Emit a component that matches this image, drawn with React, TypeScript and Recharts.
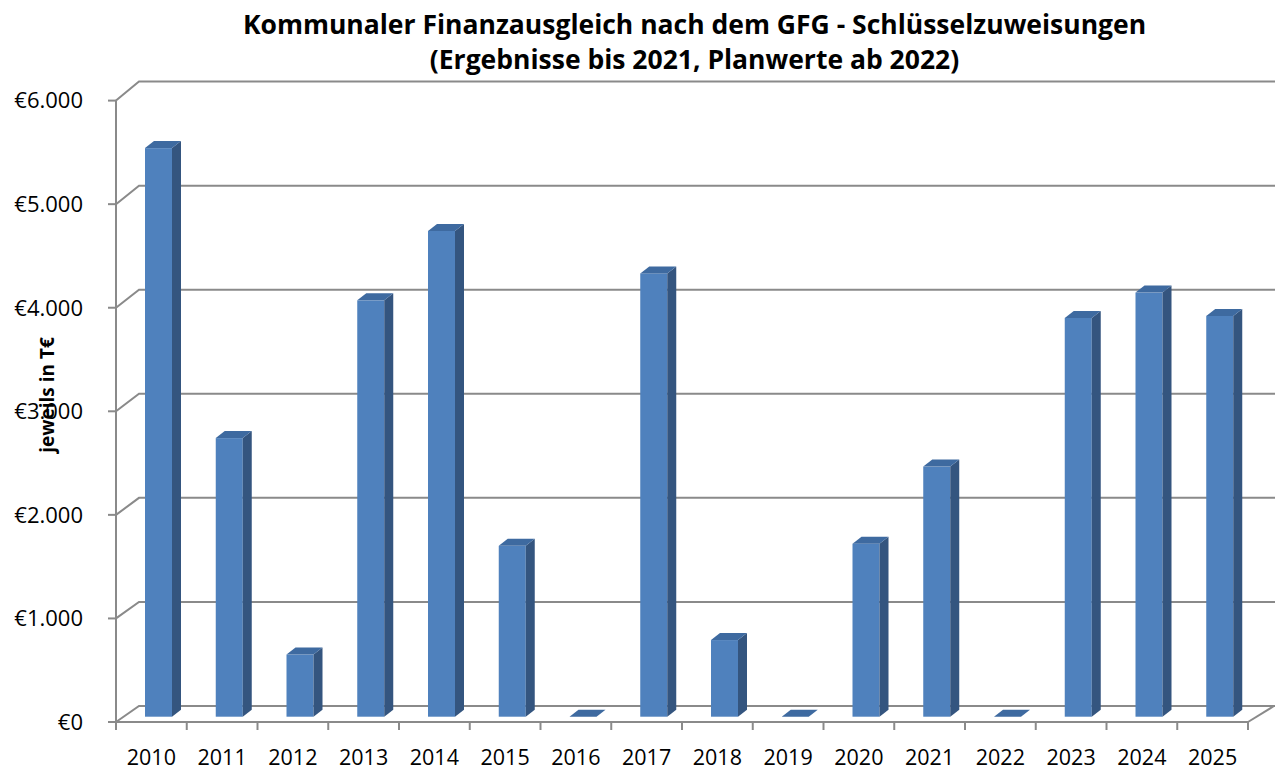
import { BarChart, Bar, XAxis, YAxis, CartesianGrid } from 'recharts'

const years = ['2010', '2011', '2012', '2013', '2014', '2015', '2016', '2017', '2018', '2019', '2020', '2021', '2022', '2023', '2024', '2025']
const schluesselzuweisungen = [5490, 2690, 600, 4020, 4690, 1650, 0, 4280, 740, 0, 1670, 2415, 0, 3850, 4095, 3870]
const yTicks = [0, 1000, 2000, 3000, 4000, 5000, 6000]

const titleLines = ['Kommunaler Finanzausgleich nach dem GFG - Schlüsselzuweisungen', '(Ergebnisse bis 2021, Planwerte ab 2022)']
const yLabel = 'jeweils in T€'

const data = years.map((year, i) => ({ year, value: schluesselzuweisungen[i] }))

const FONT = '"Open Sans", "Noto Sans", sans-serif'
const GRID = '#8a8a8a'

// plot box (front plane)
const LEFT = 116
const RIGHT = 1248
const TOP = 100.6
const BOTTOM = 722
const BAND = (RIGHT - LEFT) / years.length

// perspective of the back wall
const WALL_DX = 23
const wallDy = (y: number) => 16 + ((BOTTOM - y) / (BOTTOM - TOP)) * 3

function BackGridLine(props: any) {
  const { x1, y1, x2 } = props
  const dy = wallDy(y1)
  const isFloor = Math.abs(y1 - BOTTOM) < 1
  return (
    <g>
      <path
        d={`M${x1},${y1} L${x1 + WALL_DX},${y1 - dy} L${x2 + 27},${y1 - dy}`}
        fill="none"
        stroke={GRID}
        strokeWidth={2}
      />
      {isFloor && <path d={`M${x2},${y1} L${x2 + 26},${y1 - dy}`} fill="none" stroke={GRID} strokeWidth={2} />}
    </g>
  )
}

function Column3D(props: any) {
  const { x, y, width, height } = props
  const w = 27
  const left = x + width / 2 - w / 2 + 7
  const right = left + w
  const top = y - 5.3
  const bottom = y + height - 5.3
  const dx = 9
  const dy = 7
  const topFace = `M${left},${top} L${left + dx},${top - dy} L${right + dx},${top - dy} L${right},${top} Z`
  if (!height || height < 0.5) {
    return <path d={topFace} fill="#3e6aa0" />
  }
  return (
    <g>
      <rect x={left} y={top} width={w} height={bottom - top} fill="#4f81bd" />
      <path d={`M${right},${top} L${right + dx},${top - dy} L${right + dx},${bottom - dy} L${right},${bottom} Z`} fill="#34557f" />
      <path d={topFace} fill="#3e6aa0" />
    </g>
  )
}

function YearTick(props: any) {
  const { x, y, payload, index } = props
  const last = index === years.length - 1
  return (
    <g>
      <line x1={x - BAND / 2} y1={y} x2={x - BAND / 2} y2={y + 8} stroke={GRID} strokeWidth={2} />
      {last && <line x1={x + BAND / 2} y1={y} x2={x + BAND / 2} y2={y + 8} stroke={GRID} strokeWidth={2} />}
      <text x={x} y={y + 34} textAnchor="middle" dominantBaseline="central" fontSize={21.5} fontFamily={FONT} fill="#000">
        {payload.value}
      </text>
    </g>
  )
}

const euro = (v: number) => (v === 0 ? '€0' : `€${v / 1000}.000`)

export default function App() {
  return (
    <div style={{ position: 'absolute', left: 0, top: 0, width: 1281, height: 769, background: '#fff', fontFamily: FONT }}>
      <div
        style={{
          position: 'absolute',
          left: 54,
          top: 7,
          width: 1281,
          textAlign: 'center',
          fontWeight: 700,
          fontSize: 26.5,
          lineHeight: '35px',
          color: '#000',
        }}
      >
        {titleLines.map((t) => (
          <div key={t}>{t}</div>
        ))}
      </div>
      <BarChart
        width={1281}
        height={769}
        data={data}
        style={{ overflow: 'visible' }}
        margin={{ top: TOP, right: 1281 - RIGHT, bottom: 769 - BOTTOM - 30, left: LEFT - 60 }}
      >
        <CartesianGrid vertical={false} horizontal={(p: any) => <BackGridLine key={p.key} {...p} />} />
        <XAxis
          dataKey="year"
          height={30}
          tickLine={false}
          tickSize={0}
          tickMargin={0}
          axisLine={{ stroke: GRID, strokeWidth: 2 }}
          tick={<YearTick />}
          interval={0}
        />
        <YAxis
          width={60}
          domain={[0, 6000]}
          ticks={yTicks}
          tickFormatter={euro}
          tickSize={8}
          tickMargin={25}
          tickLine={{ stroke: GRID, strokeWidth: 2 }}
          axisLine={{ stroke: GRID, strokeWidth: 2 }}
          tick={{ fill: '#000', fontSize: 22, fontFamily: FONT }}
        />
        <Bar dataKey="value" barSize={27} shape={(p: any) => <Column3D {...p} />} isAnimationActive={false} />
      </BarChart>
      <div
        style={{
          position: 'absolute',
          left: 47,
          top: 395,
          transform: 'translate(-50%, -50%) rotate(-90deg)',
          whiteSpace: 'nowrap',
          fontWeight: 700,
          fontSize: 19,
          color: '#000',
        }}
      >
        {yLabel}
      </div>
    </div>
  )
}
